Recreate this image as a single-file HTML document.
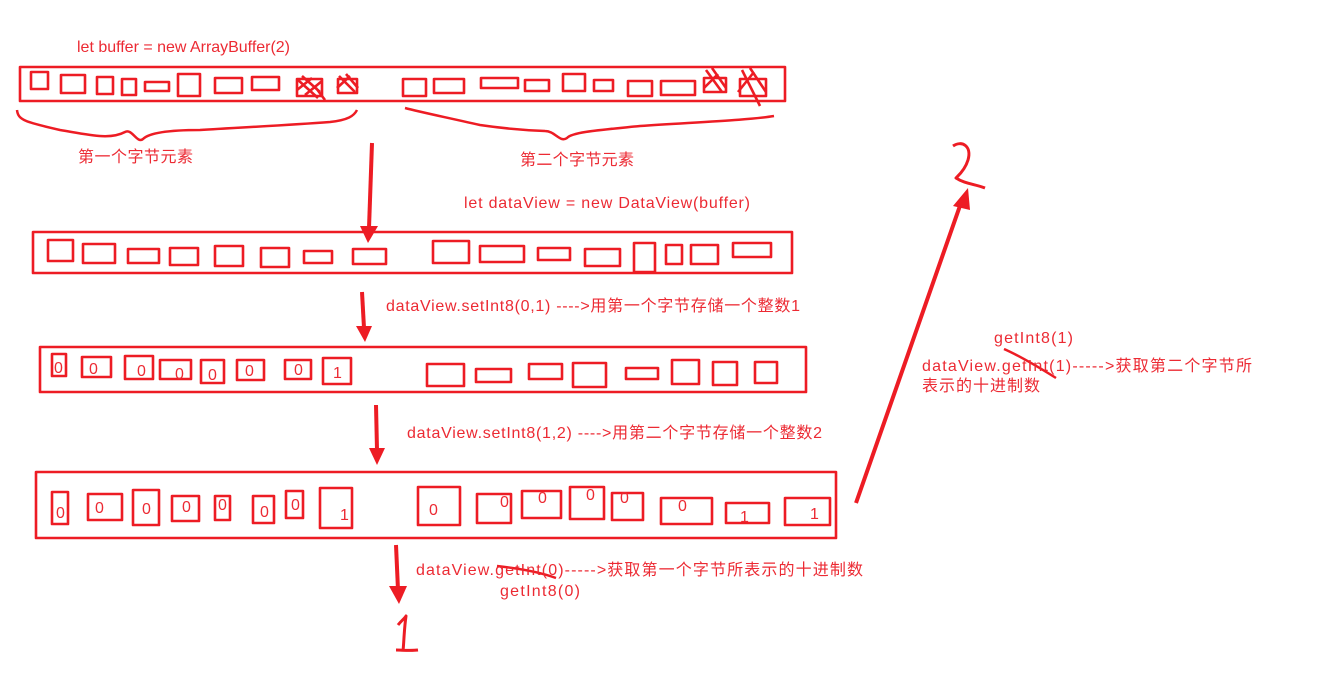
<!DOCTYPE html>
<html><head><meta charset="utf-8"><style>
html,body{margin:0;padding:0;background:#fff;width:1344px;height:690px;overflow:hidden}
svg text{font-family:"Liberation Sans","Noto Sans CJK SC",sans-serif;fill:#ec2a33;font-size:16px}
</style></head><body>
<svg width="1344" height="690" viewBox="0 0 1344 690" xmlns="http://www.w3.org/2000/svg">
<g fill="none" stroke="#ed1c24" stroke-width="2.6" stroke-linejoin="round">
<rect x="20" y="67" width="765" height="34"/>
<rect x="31" y="72" width="17" height="17"/><rect x="61" y="75" width="24" height="18"/><rect x="97" y="77" width="16" height="17"/><rect x="122" y="79" width="14" height="16"/><rect x="145" y="82" width="24" height="9"/><rect x="178" y="74" width="22" height="22"/><rect x="215" y="78" width="27" height="15"/><rect x="252" y="77" width="27" height="13"/><rect x="297" y="79" width="25" height="17"/><rect x="338" y="79" width="19" height="14"/>
<rect x="403" y="79" width="23" height="17"/><rect x="434" y="79" width="30" height="14"/><rect x="481" y="78" width="37" height="10"/><rect x="525" y="80" width="24" height="11"/><rect x="563" y="74" width="22" height="17"/><rect x="594" y="80" width="19" height="11"/><rect x="628" y="81" width="24" height="15"/><rect x="661" y="81" width="34" height="14"/><rect x="704" y="78" width="22" height="14"/><rect x="740" y="79" width="26" height="17"/>
<path d="M298 80 L318 98 M302 76 L320 92 M297 90 L312 78 M305 95 L322 81 M316 88 L325 100"/>
<path d="M339 76 L355 92 M346 74 L358 88 M337 88 L350 76"/>
<path d="M706 70 L722 92 M712 68 L726 88 M704 88 L718 74"/>
<path d="M742 70 L760 106 M750 68 L766 92 M738 92 L754 72"/>
<path d="M17 110 C18 120 25 122 60 130 C90 135 110 140 125 132 C132 128 137 144 143 139 C150 132 175 130 200 130 C250 127 290 125 330 122 C348 120 354 116 357 110" stroke-width="2.5"/>
<path d="M405 108 C420 112 440 116 480 125 C500 128 520 130 545 131 C555 131 560 143 567 138 C572 132 600 130 640 126 C700 122 750 120 774 116" stroke-width="2.5"/>
<rect x="33" y="232" width="759" height="41"/>
<rect x="48" y="240" width="25" height="21"/><rect x="83" y="244" width="32" height="19"/><rect x="128" y="249" width="31" height="14"/><rect x="170" y="248" width="28" height="17"/><rect x="215" y="246" width="28" height="20"/><rect x="261" y="248" width="28" height="19"/><rect x="304" y="251" width="28" height="12"/><rect x="353" y="249" width="33" height="15"/>
<rect x="433" y="241" width="36" height="22"/><rect x="480" y="246" width="44" height="16"/><rect x="538" y="248" width="32" height="12"/><rect x="585" y="249" width="35" height="17"/><rect x="634" y="243" width="21" height="29"/><rect x="666" y="245" width="16" height="19"/><rect x="691" y="245" width="27" height="19"/><rect x="733" y="243" width="38" height="14"/>
<rect x="40" y="347" width="766" height="45"/>
<rect x="52" y="354" width="14" height="22"/><rect x="82" y="357" width="29" height="20"/><rect x="125" y="356" width="28" height="23"/><rect x="160" y="360" width="31" height="19"/><rect x="201" y="360" width="23" height="23"/><rect x="237" y="360" width="27" height="20"/><rect x="285" y="360" width="26" height="19"/><rect x="323" y="358" width="28" height="26"/>
<rect x="427" y="364" width="37" height="22"/><rect x="476" y="369" width="35" height="13"/><rect x="529" y="364" width="33" height="15"/><rect x="573" y="363" width="33" height="24"/><rect x="626" y="368" width="32" height="11"/><rect x="672" y="360" width="27" height="24"/><rect x="713" y="362" width="24" height="23"/><rect x="755" y="362" width="22" height="21"/>
<rect x="36" y="472" width="800" height="66"/>
<rect x="52" y="492" width="16" height="32"/><rect x="88" y="494" width="34" height="26"/><rect x="133" y="490" width="26" height="35"/><rect x="172" y="496" width="27" height="25"/><rect x="215" y="496" width="15" height="24"/><rect x="253" y="496" width="21" height="27"/><rect x="286" y="491" width="17" height="27"/><rect x="320" y="488" width="32" height="40"/>
<rect x="418" y="487" width="42" height="38"/><rect x="477" y="494" width="34" height="29"/><rect x="522" y="491" width="39" height="27"/><rect x="570" y="487" width="34" height="32"/><rect x="612" y="493" width="31" height="27"/><rect x="661" y="498" width="51" height="26"/><rect x="726" y="503" width="43" height="20"/><rect x="785" y="498" width="45" height="27"/>
<path d="M372 143 L369 228" stroke-width="4"/>
<path d="M362 292 L364 328" stroke-width="4"/>
<path d="M376 405 L377 450" stroke-width="4"/>
<path d="M396 545 L398 590" stroke-width="4"/>
<path d="M856 503 L962 200" stroke-width="4"/>
<path d="M497 566 C515 568 540 572 556 578" stroke-width="2.5"/>
<path d="M1004 349 C1020 356 1040 368 1056 378" stroke-width="2.5"/>
<path d="M953 146 C962 140 972 146 968 160 C965 170 958 176 956 178 C965 184 975 184 985 188" stroke-width="3"/>
<path d="M398 625 C402 620 405 618 406 616 C404 630 404 642 403 651 M396 650 C402 650 410 651 418 650" stroke-width="3"/>
</g>
<g fill="#ed1c24">
<polygon points="360,226 378,226 368,243"/>
<polygon points="356,326 372,326 365,342"/>
<polygon points="369,448 385,448 377,465"/>
<polygon points="389,586 407,586 399,604"/>
<polygon points="953,206 970,210 968,188"/>
</g>
<text x="77" y="52" textLength="213" lengthAdjust="spacing">let buffer = new ArrayBuffer(2)</text>
<text x="78" y="162" textLength="115" lengthAdjust="spacing">第一个字节元素</text>
<text x="520" y="165" textLength="114" lengthAdjust="spacing">第二个字节元素</text>
<text x="464" y="208" textLength="286" lengthAdjust="spacing">let dataView = new DataView(buffer)</text>
<text x="386" y="311" textLength="414" lengthAdjust="spacing">dataView.setInt8(0,1) ----&gt;用第一个字节存储一个整数1</text>
<text x="407" y="438" textLength="415" lengthAdjust="spacing">dataView.setInt8(1,2) ----&gt;用第二个字节存储一个整数2</text>
<text x="416" y="575" textLength="447" lengthAdjust="spacing">dataView.getInt(0)-----&gt;获取第一个字节所表示的十进制数</text>
<text x="500" y="596" textLength="80" lengthAdjust="spacing">getInt8(0)</text>
<text x="994" y="343" textLength="79" lengthAdjust="spacing">getInt8(1)</text>
<text x="922" y="371" textLength="330" lengthAdjust="spacing">dataView.getInt(1)-----&gt;获取第二个字节所</text>
<text x="922" y="391" textLength="118" lengthAdjust="spacing">表示的十进制数</text>
<g style="font-size:14px">
<text x="54" y="373">0</text><text x="89" y="374">0</text><text x="137" y="376">0</text><text x="175" y="379">0</text><text x="208" y="380">0</text><text x="245" y="376">0</text><text x="294" y="375">0</text><text x="333" y="378">1</text>
<text x="56" y="518">0</text><text x="95" y="513">0</text><text x="142" y="514">0</text><text x="182" y="512">0</text><text x="218" y="510">0</text><text x="260" y="517">0</text><text x="291" y="510">0</text><text x="340" y="520">1</text>
<text x="429" y="515">0</text><text x="500" y="507">0</text><text x="538" y="503">0</text><text x="586" y="500">0</text><text x="620" y="503">0</text><text x="678" y="511">0</text><text x="740" y="522">1</text><text x="810" y="519">1</text>
</g>
</svg>
</body></html>
